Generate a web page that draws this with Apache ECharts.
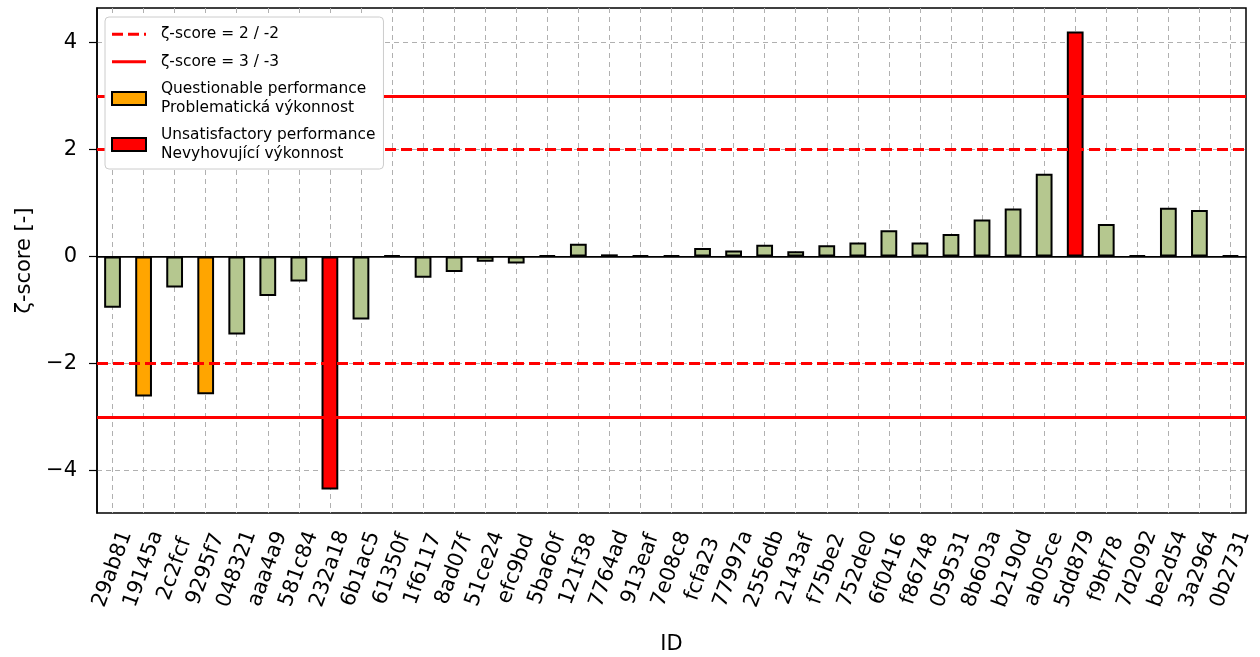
<!DOCTYPE html>
<html>
<head>
<meta charset="utf-8">
<script src="https://cdn.jsdelivr.net/npm/echarts@6/dist/echarts.min.js"></script>
<style>html,body{margin:0;padding:0;background:#fff}#c{width:1260px;height:657px}</style>
</head>
<body>
<div id="c"></div>
<script>
const ids = ['29ab81','19145a','2c2fcf','9295f7','048321','aaa4a9','581c84','232a18','6b1ac5','61350f',
  '1f6117','8ad07f','51ce24','efc9bd','5ba60f','121f38','7764ad','913eaf','7e08c8','fcfa23',
  '77997a','2556db','2143af','f75be2','752de0','6f0416','f86748','059531','8b603a','b2190d',
  'ab05ce','5dd879','f9bf78','7d2092','be2d54','3a2964','0b2731'];
const zscores = [-0.96,-2.62,-0.58,-2.58,-1.46,-0.74,-0.47,-4.36,-1.18,0,
  -0.40,-0.29,-0.10,-0.13,0,0.24,0.04,0,0,0.16,
  0.11,0.22,0.10,0.21,0.26,0.49,0.26,0.42,0.69,0.90,
  1.55,4.21,0.61,0,0.91,0.87,0];
const yTicks = [-4,-2,0,2,4];
const warnLevel = 2;
const actionLevel = 3;

const FONT = 'DejaVu Sans';
const nameQ = 'Questionable performance\nProblematická výkonnost';
const nameU = 'Unsatisfactory performance\nNevyhovující výkonnost';
const nameW = 'ζ-score = 2 / -2';
const nameA = 'ζ-score = 3 / -3';

const okData = zscores.map(v => Math.abs(v) < warnLevel ? v : '-');
const qData = zscores.map(v => (Math.abs(v) >= warnLevel && Math.abs(v) < actionLevel) ? v : '-');
const uData = zscores.map(v => Math.abs(v) >= actionLevel ? v : '-');

const barBase = {type: 'bar', barWidth: '54%', barGap: '-100%', z: 3};

// legend glyphs (bounding box fixed by two tiny corner triangles)
const iconDashed = 'path://M0,0L0.01,0L0,0.01Z M0,5H11V8H0Z M16,5H27V8H16Z M32,5H34V8H32Z M34,13L33.99,13L34,12.99Z';
const iconSolid = 'path://M0,0L0.01,0L0,0.01Z M0,5H34V8H0Z M34,13L33.99,13L34,12.99Z';

const chart = echarts.init(document.getElementById('c'), null, {renderer: 'canvas'});
chart.setOption({
  animation: false,
  backgroundColor: '#fff',
  textStyle: {fontFamily: FONT},
  grid: {left: 97, right: 14, top: 8, bottom: 144, show: true, borderColor: '#000', borderWidth: 1.5,
         containLabel: false, outerBoundsMode: 'none'},
  legend: {
    orient: 'vertical', left: 105, top: 17, z: 20,
    data: [{name: nameW, icon: iconDashed}, {name: nameA, icon: iconSolid},
           {name: nameQ, icon: 'rect'}, {name: nameU, icon: 'rect'}],
    itemWidth: 34, itemHeight: 13, itemGap: 9,
    padding: [8, 8, 6, 6],
    backgroundColor: '#fff',
    borderColor: '#cccccc', borderWidth: 1, borderRadius: 4,
    textStyle: {fontFamily: FONT, fontSize: 15.4, lineHeight: 18.5, color: '#000', padding: [0, 0, 0, 10]},
    selectedMode: false
  },
  xAxis: {
    type: 'category', data: ids, boundaryGap: true,
    name: 'ID', nameLocation: 'middle', nameGap: 121,
    nameTextStyle: {fontFamily: FONT, fontSize: 21, color: '#000'},
    axisLine: {lineStyle: {color: '#000', width: 1.5}},
    axisTick: {alignWithLabel: true, length: 8, lineStyle: {color: '#000', width: 1.2}},
    axisLabel: {interval: 0, rotate: 70, align: 'center', verticalAlign: 'middle', margin: 56,
                fontFamily: FONT, fontSize: 21, color: '#000'},
    splitLine: {show: true, alignWithLabel: true, lineStyle: {color: '#b0b0b0', type: [5, 4], width: 1}}
  },
  yAxis: {
    type: 'value', min: -4.8, max: 4.65,
    name: 'ζ-score [-]', nameLocation: 'middle', nameGap: 62, nameRotate: 90,
    nameTextStyle: {fontFamily: FONT, fontSize: 21, color: '#000'},
    axisLine: {show: true, lineStyle: {color: '#000', width: 1.5}},
    axisTick: {show: true, length: 8, customValues: yTicks, lineStyle: {color: '#000', width: 1.2}},
    axisLabel: {customValues: yTicks, margin: 20, fontFamily: FONT, fontSize: 21, color: '#000',
                formatter: v => String(v).replace('-', '\u2212')},
    splitLine: {show: true, lineStyle: {color: '#b0b0b0', type: [5, 4], width: 1}}
  },
  series: [
    Object.assign({}, barBase, {
      name: 'ok', data: okData, barMinHeight: 1,
      itemStyle: {color: '#b5c78f', borderColor: '#000', borderWidth: 2},
      markLine: {silent: true, symbol: 'none', label: {show: false}, z: 2,
                 lineStyle: {color: '#000', width: 1.2, type: 'solid'},
                 data: [{yAxis: 0}]}
    }),
    Object.assign({}, barBase, {
      name: nameQ, data: qData,
      itemStyle: {color: '#ffa500', borderColor: '#000', borderWidth: 2}
    }),
    Object.assign({}, barBase, {
      name: nameU, data: uData,
      itemStyle: {color: '#ff0000', borderColor: '#000', borderWidth: 2}
    }),
    {
      type: 'line', name: nameW, data: [], symbol: 'none', z: 2,
      lineStyle: {color: '#ff0000', width: 3, type: [11, 5]},
      itemStyle: {color: '#ff0000'},
      markLine: {silent: true, symbol: 'none', label: {show: false},
                 lineStyle: {color: '#ff0000', width: 3, type: [11, 5]},
                 data: [{yAxis: warnLevel}, {yAxis: -warnLevel}]}
    },
    {
      type: 'line', name: nameA, data: [], symbol: 'none', z: 2,
      lineStyle: {color: '#ff0000', width: 3, type: 'solid'},
      itemStyle: {color: '#ff0000'},
      markLine: {silent: true, symbol: 'none', label: {show: false},
                 lineStyle: {color: '#ff0000', width: 3, type: 'solid'},
                 data: [{yAxis: actionLevel}, {yAxis: -actionLevel}]}
    }
  ]
});
</script>
</body>
</html>
